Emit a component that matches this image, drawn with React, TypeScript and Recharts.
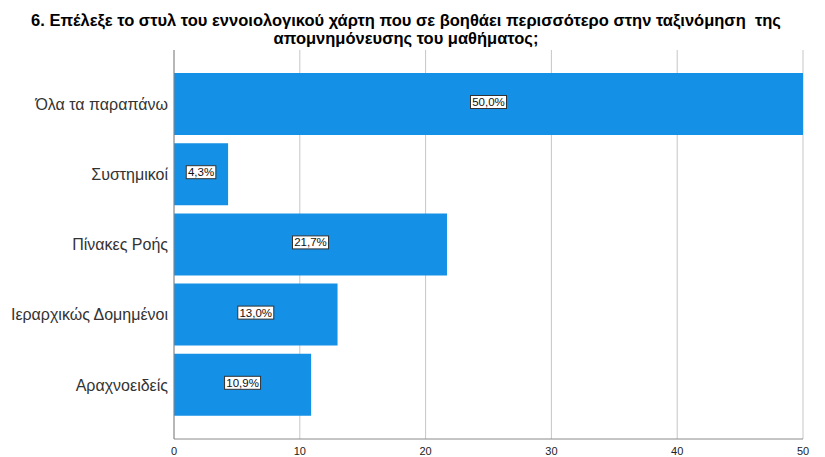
import React from 'react';
import { BarChart, Bar, XAxis, YAxis, CartesianGrid, LabelList } from 'recharts';

const categories = ['Όλα τα παραπάνω', 'Συστημικοί', 'Πίνακες Ροής', 'Ιεραρχικώς Δομημένοι', 'Αραχνοειδείς'];
const percentValues = [50.0, 4.3, 21.7, 13.0, 10.9];
const xTicks = [0, 10, 20, 30, 40, 50];
const titleLine1 = '6. Επέλεξε το στυλ του εννοιολογικού χάρτη που σε βοηθάει περισσότερο στην ταξινόμηση\u00a0 της';
const titleLine2 = 'απομνημόνευσης του μαθήματος;';

const data = categories.map((name, i) => ({ name, value: percentValues[i] }));

const FONT = '"Liberation Sans", Arial, sans-serif';

const BoxLabel = (props: any) => {
  const { x, y, width, height, value } = props;
  const text = Number(value).toFixed(1).replace('.', ',') + '%';
  const cx = x + width / 2;
  const cy = y + height / 2 - 2;
  const w = text.length * 6.4 + 4;
  const h = 13;
  return (
    <g>
      <rect x={cx - w / 2} y={cy - h / 2} width={w} height={h} fill="#ffffff" stroke="#333333" strokeWidth={1} />
      <text x={cx} y={cy + 4} textAnchor="middle" fontSize={11.5} fontFamily={FONT} fill="#111111">
        {text}
      </text>
    </g>
  );
};

export default function App() {
  return (
    <div style={{ position: 'absolute', left: 0, top: 0, width: 825, height: 457, background: '#ffffff' }}>
      <div
        style={{
          position: 'absolute',
          left: 0,
          top: 11,
          width: 812,
          textAlign: 'center',
          fontFamily: FONT,
          fontWeight: 'bold',
          fontSize: 16.5,
          lineHeight: '18px',
          color: '#000000',
          whiteSpace: 'pre',
        }}
      >
        <div>{titleLine1}</div>
        <div>{titleLine2}</div>
      </div>
      <div style={{ position: 'absolute', left: 0, top: 0 }}>
        <BarChart
          width={825}
          height={457}
          data={data}
          layout="vertical"
          margin={{ top: 50, right: 22, bottom: 0, left: 0 }}
          barSize={62}
        >
          <CartesianGrid horizontal={false} stroke="#c6c6c6" />
          <XAxis
            type="number"
            domain={[0, 50]}
            ticks={xTicks}
            tickLine={false}
            axisLine={{ stroke: '#8a8a8a' }}
            height={18}
            tickMargin={2}
            tick={{ fontSize: 11, fill: '#222222', fontFamily: FONT }}
          />
          <YAxis
            type="category"
            dataKey="name"
            width={174}
            tickLine={false}
            axisLine={{ stroke: '#8a8a8a' }}
            padding={{ top: 19, bottom: 19 }}
            tickMargin={0}
            tick={{ fontSize: 16, fill: '#333333', fontFamily: FONT }}
          />
          <Bar dataKey="value" fill="#1491e6" isAnimationActive={false}>
            <LabelList dataKey="value" content={BoxLabel} />
          </Bar>
        </BarChart>
      </div>
    </div>
  );
}
